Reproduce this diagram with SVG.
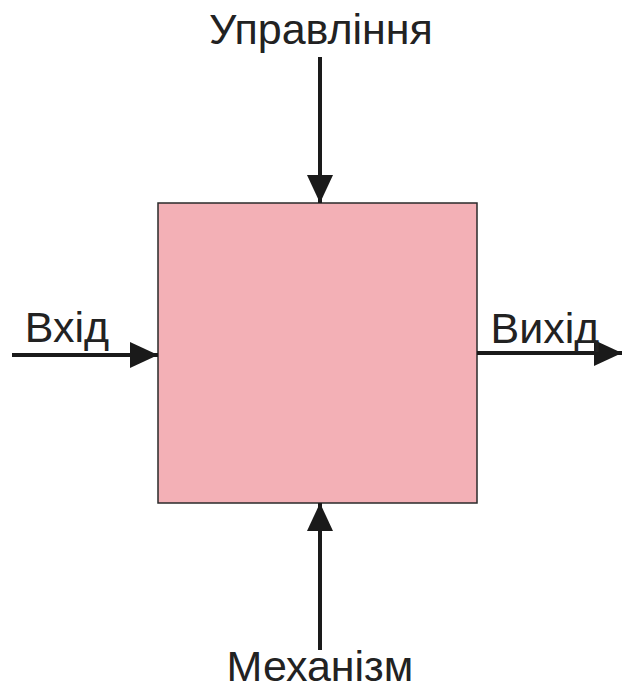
<svg xmlns="http://www.w3.org/2000/svg" width="622" height="689" viewBox="0 0 622 689">
<style>
.lbl{font-family:"Liberation Sans",Arial,sans-serif;font-size:43px;fill:#222}
.ln{stroke:#1a1a1a;stroke-width:4;fill:none}
</style>
<defs>
<marker id="ah" viewBox="0 0 28 26" refX="28" refY="13" markerWidth="28" markerHeight="26" markerUnits="userSpaceOnUse" orient="auto">
<path d="M0,0 L28,13 L0,26 Z" fill="#1a1a1a"/>
</marker>
</defs>
<rect width="622" height="689" fill="#fff"/>
<g id="box">
<rect x="158" y="203" width="319" height="300" fill="#F3B0B6" stroke="#2a2a2a" stroke-width="1.5"/>
</g>
<g id="connectors">
<line class="ln" x1="320" y1="57" x2="320" y2="203" marker-end="url(#ah)"/>
<line class="ln" x1="12" y1="355" x2="158" y2="355" marker-end="url(#ah)"/>
<line class="ln" x1="477" y1="353" x2="622" y2="353" marker-end="url(#ah)"/>
<line class="ln" x1="320" y1="650" x2="320" y2="503" marker-end="url(#ah)"/>
</g>
<g id="label-control"><text class="lbl" x="321" y="44" text-anchor="middle">Управління</text></g>
<g id="label-input"><text class="lbl" x="67" y="342" text-anchor="middle">Вхід</text></g>
<g id="label-output"><text class="lbl" x="545" y="343" text-anchor="middle">Вихід</text></g>
<g id="label-mechanism"><text class="lbl" x="320" y="681" text-anchor="middle">Механізм</text></g>
</svg>
